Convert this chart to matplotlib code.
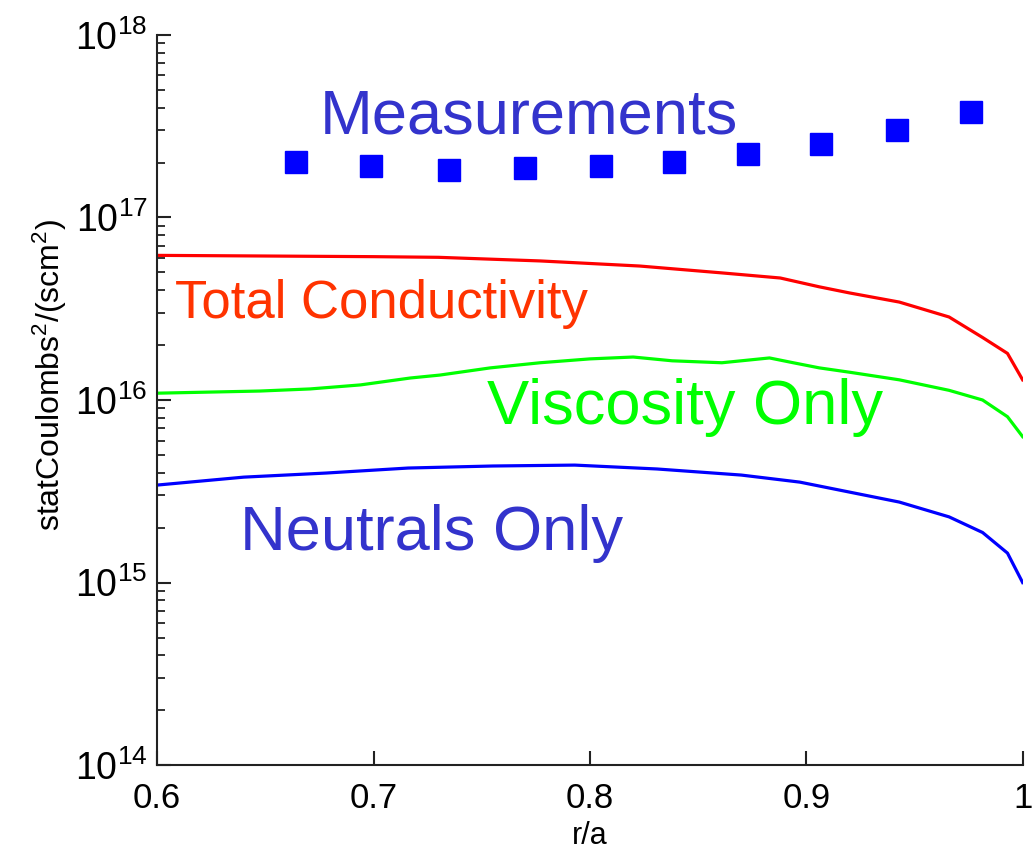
import matplotlib
matplotlib.use("Agg")
import matplotlib.pyplot as plt
from matplotlib.ticker import LogLocator, NullFormatter, FixedLocator, FixedFormatter

plt.rcParams["font.family"] = ["Liberation Sans", "DejaVu Sans"]
plt.rcParams["mathtext.fontset"] = "custom"
plt.rcParams["mathtext.rm"] = "Liberation Sans"
plt.rcParams["mathtext.it"] = "Liberation Sans"

# measured surface charge values
meas_r = [0.664, 0.699, 0.735, 0.770, 0.805, 0.839, 0.873, 0.907, 0.942, 0.976]
meas_val = [2.01e17, 1.91e17, 1.82e17, 1.86e17, 1.91e17, 2.01e17, 2.23e17, 2.52e17, 3.01e17, 3.78e17]

# model curves
total_r = [0.60, 0.65, 0.70, 0.73, 0.777, 0.823, 0.861, 0.888, 0.906, 0.92, 0.943, 0.966, 0.9815, 0.993, 1.0]
total_val = [6.2e16, 6.15e16, 6.1e16, 6.05e16, 5.78e16, 5.42e16, 4.97e16, 4.66e16, 4.17e16, 3.86e16,
             3.44e16, 2.85e16, 2.2e16, 1.8e16, 1.29e16]

visc_r = [0.60, 0.6476, 0.6707, 0.694, 0.717, 0.7307, 0.754, 0.777, 0.80, 0.82, 0.838, 0.861, 0.883,
          0.894, 0.906, 0.92, 0.943, 0.966, 0.9815, 0.993, 1.0]
visc_val = [1.09e16, 1.12e16, 1.15e16, 1.21e16, 1.32e16, 1.37e16, 1.5e16, 1.6e16, 1.68e16, 1.72e16,
            1.64e16, 1.6e16, 1.70e16, 1.6e16, 1.5e16, 1.42e16, 1.29e16, 1.13e16, 1.0e16, 8.1e15, 6.3e15]

neut_r = [0.60, 0.64, 0.678, 0.716, 0.755, 0.793, 0.831, 0.870, 0.897, 0.92, 0.943, 0.966, 0.9815, 0.993, 1.0]
neut_val = [3.42e15, 3.78e15, 3.98e15, 4.24e15, 4.35e15, 4.4e15, 4.19e15, 3.88e15, 3.55e15, 3.13e15,
            2.76e15, 2.29e15, 1.88e15, 1.45e15, 1.0e15]

xticks = [0.6, 0.7, 0.8, 0.9, 1.0]
xtick_labels = ["0.6", "0.7", "0.8", "0.9", "1"]

fig = plt.figure(figsize=(10.34, 8.52), dpi=100)
ax = fig.add_axes([0.152, 0.102, 0.837, 0.857])

ax.plot(total_r, total_val, color="#ff0000", linewidth=2.3)
ax.plot(visc_r, visc_val, color="#00ff00", linewidth=2.3)
ax.plot(neut_r, neut_val, color="#0000ff", linewidth=2.3)
ax.plot(meas_r, meas_val, linestyle="none", marker="s", markersize=15.5, color="#0000ff")

ax.text(0.6753, 2.9e17, "Measurements", color="#3333cc", fontsize=45.5, va="baseline")
ax.text(0.6083, 2.81e16, "Total Conductivity", color="#ff3300", fontsize=38, va="baseline")
ax.text(0.7524, 7.38e15, "Viscosity Only", color="#00ff00", fontsize=45.5, va="baseline")
ax.text(0.6383, 1.51e15, "Neutrals Only", color="#3333cc", fontsize=45.5, va="baseline")

ax.set_yscale("log")
ax.set_xlim(0.6, 1.0)
ax.set_ylim(1e14, 1e18)
ax.yaxis.set_major_locator(LogLocator(base=10, numticks=10))
ax.yaxis.set_minor_locator(LogLocator(base=10, subs=range(2, 10), numticks=50))
ax.yaxis.set_minor_formatter(NullFormatter())
ax.xaxis.set_major_locator(FixedLocator(xticks))
ax.xaxis.set_major_formatter(FixedFormatter(xtick_labels))

for side in ["top", "right"]:
    ax.spines[side].set_visible(False)
for side in ["left", "bottom"]:
    ax.spines[side].set_linewidth(1.5)
    ax.spines[side].set_color("#222222")

ax.tick_params(axis="both", which="major", direction="in", length=10, width=1.5,
               labelsize=27, color="#222222")
ax.tick_params(axis="y", which="minor", direction="in", length=6, width=1.3, color="#222222")
ax.tick_params(axis="y", which="major", pad=7)
ax.tick_params(axis="x", which="major", pad=12, labelsize=25)

ax.set_ylabel("statCoulombs$^2$/(scm$^2$)", fontsize=23)
ax.set_xlabel("r/a", fontsize=22)
ax.yaxis.set_label_coords(-0.102, 0.534)
ax.xaxis.set_label_coords(0.5, -0.077)

fig.savefig("out.png", dpi=100)
